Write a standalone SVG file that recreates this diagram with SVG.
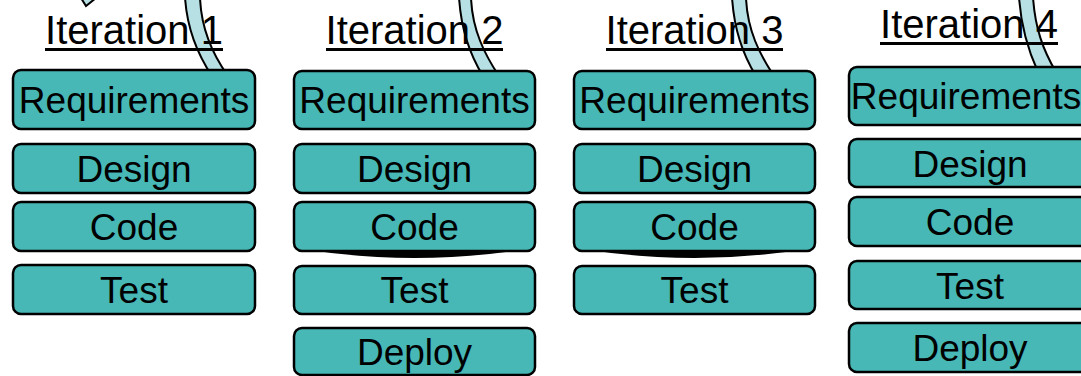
<svg xmlns="http://www.w3.org/2000/svg" width="1081" height="376" viewBox="0 0 1081 376">
<style>
.box{fill:#47B8B6;stroke:#000;stroke-width:2.5}
.lbl{font-family:"Liberation Sans",Arial,sans-serif;font-size:37px;fill:#000;text-anchor:middle}
.ttl{font-family:"Liberation Sans",Arial,sans-serif;font-size:40px;fill:#000;text-anchor:middle}
.ul{stroke:#000;stroke-width:3}
.band{fill:#B6E0E3;stroke:#000;stroke-width:2}
.shadow{fill:#000}
</style>
<rect width="1081" height="376" fill="#fff"/>
<g id="connectors">
<polygon class="band" points="81,-2 86,6 96,-2"/>
<path class="band" d="M185 -3 C187 30 198 55 212 76 L228 76 C213 55 201 30 200 -3 Z"/>
<path class="band" d="M459 -3 C461 30 470 55 483 76 L499 76 C485 55 472 30 471 -3 Z"/>
<path class="band" d="M732 -3 C734 30 743 55 756 76 L774 76 C760 55 747 30 746 -3 Z"/>
<path class="band" d="M1019 -3 C1021 28 1028 50 1038 72 L1056 72 C1043 50 1035 28 1033 -3 Z"/>
</g>
<g id="titles">
<text class="ttl" x="134" y="44">Iteration 1</text>
<line class="ul" x1="45" y1="49.5" x2="223" y2="49.5"/>
<text class="ttl" x="414.5" y="44">Iteration 2</text>
<line class="ul" x1="326" y1="49.5" x2="503" y2="49.5"/>
<text class="ttl" x="694.5" y="44">Iteration 3</text>
<line class="ul" x1="606" y1="49.5" x2="783" y2="49.5"/>
<text class="ttl" x="969" y="38">Iteration 4</text>
<line class="ul" x1="880" y1="43.5" x2="1058" y2="43.5"/>
</g>
<g id="i1-req"><rect class="box" x="13" y="70" width="242" height="59" rx="8"/><text class="lbl" x="134" y="112.5">Requirements</text></g>
<g id="i1-design"><rect class="box" x="13" y="144" width="242" height="49" rx="8"/><text class="lbl" x="134" y="182">Design</text></g>
<g id="i1-code"><rect class="box" x="13" y="202" width="242" height="49" rx="8"/><text class="lbl" x="134" y="240">Code</text></g>
<g id="i1-test"><rect class="box" x="13" y="265" width="242" height="49" rx="8"/><text class="lbl" x="134" y="303">Test</text></g>

<g id="i2-req"><rect class="box" x="294" y="71" width="241" height="58" rx="8"/><text class="lbl" x="414.5" y="113">Requirements</text></g>
<g id="i2-design"><rect class="box" x="294" y="144" width="241" height="49" rx="8"/><text class="lbl" x="414.5" y="182">Design</text></g>
<g id="i2-code"><path class="shadow" d="M297 248 Q414.5 268 532 248 Z"/><rect class="box" x="294" y="202" width="241" height="49" rx="8"/><text class="lbl" x="414.5" y="240">Code</text></g>
<g id="i2-test"><rect class="box" x="294" y="266" width="241" height="48" rx="8"/><text class="lbl" x="414.5" y="303">Test</text></g>
<g id="i2-deploy"><rect class="box" x="294" y="328" width="241" height="47" rx="8"/><text class="lbl" x="414.5" y="364.5">Deploy</text></g>

<g id="i3-req"><rect class="box" x="574" y="71" width="241" height="58" rx="8"/><text class="lbl" x="694.5" y="113">Requirements</text></g>
<g id="i3-design"><rect class="box" x="574" y="144" width="241" height="49" rx="8"/><text class="lbl" x="694.5" y="182">Design</text></g>
<g id="i3-code"><path class="shadow" d="M577 248 Q694.5 268 812 248 Z"/><rect class="box" x="574" y="202" width="241" height="49" rx="8"/><text class="lbl" x="694.5" y="240">Code</text></g>
<g id="i3-test"><rect class="box" x="574" y="266" width="241" height="48" rx="8"/><text class="lbl" x="694.5" y="303">Test</text></g>

<g id="i4-req"><rect class="box" x="849" y="67" width="242" height="58" rx="8"/><text class="lbl" x="966" y="109">Requirements</text></g>
<g id="i4-design"><rect class="box" x="849" y="139" width="242" height="48" rx="8"/><text class="lbl" x="970" y="176.5">Design</text></g>
<g id="i4-code"><rect class="box" x="849" y="197" width="242" height="49" rx="8"/><text class="lbl" x="970" y="235">Code</text></g>
<g id="i4-test"><rect class="box" x="849" y="261" width="242" height="48" rx="8"/><text class="lbl" x="970" y="298.5">Test</text></g>
<g id="i4-deploy"><rect class="box" x="849" y="323" width="242" height="49" rx="8"/><text class="lbl" x="970" y="361">Deploy</text></g>
</svg>
